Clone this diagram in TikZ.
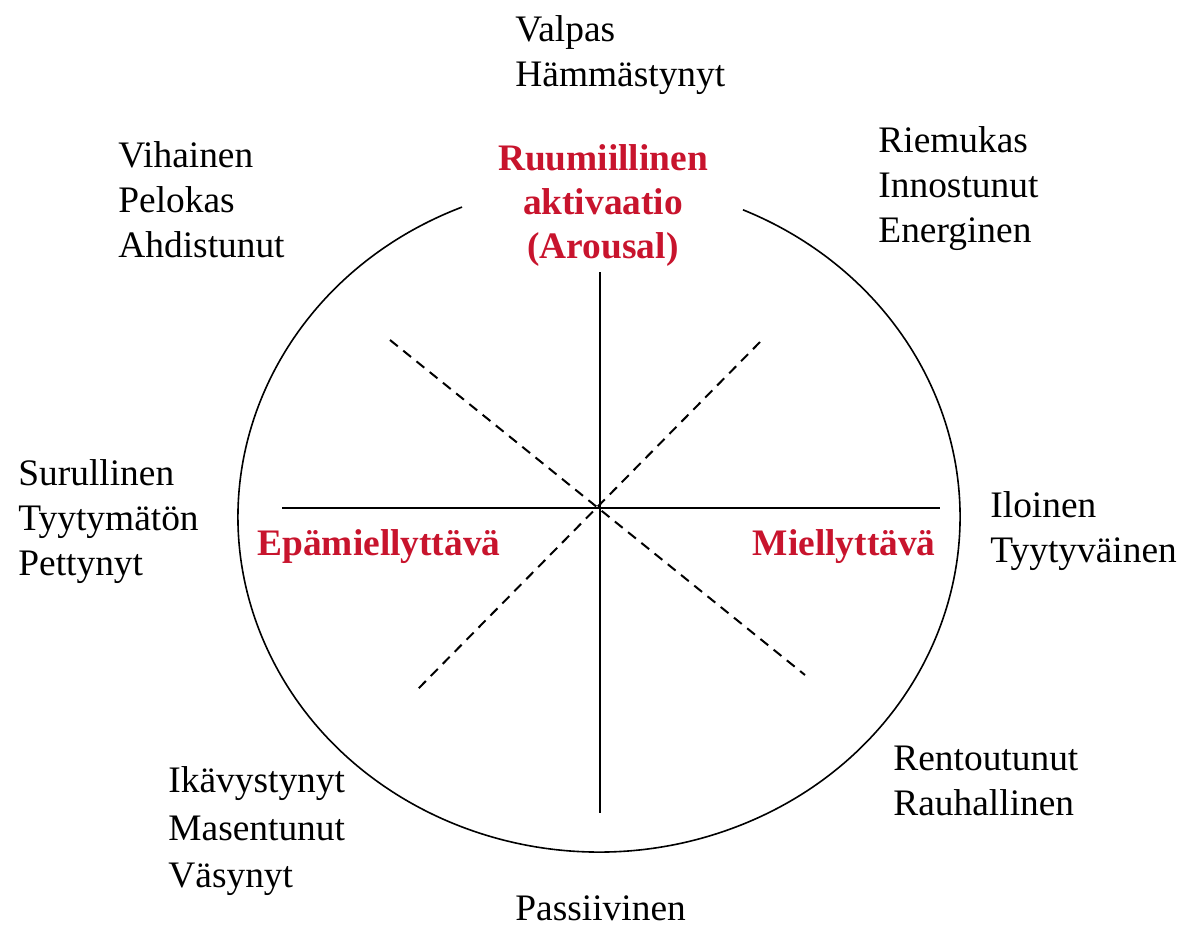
\documentclass[tikz,border=0pt]{standalone}
\usepackage{fontspec}
\setmainfont{Liberation Serif}
\definecolor{axred}{RGB}{200,20,45}
\begin{document}
\begin{tikzpicture}[x=0.5pt,y=-0.5pt,
  lbl/.style={anchor=base west, inner sep=0pt, font=\fontsize{18.7}{22.5}\selectfont},
  ttl/.style={inner sep=0pt, text=axred, font=\fontsize{18.7}{22.5}\selectfont\bfseries},
  axisline/.style={line width=1pt},
  diagline/.style={line width=1pt, dash pattern=on 5pt off 3.5pt},
  rim/.style={line width=0.8pt}]
\useasboundingbox (0,0) rectangle (1186,928);

% ellipse with gap at top
\coordinate (E) at (599,517);
\draw[rim] (E) ++(112.3:180.5pt and 167.5pt)
  arc[start angle=112.3, end angle=426.5, x radius=180.5pt, y radius=167.5pt];

% axes
\coordinate (hl) at (282,508);
\coordinate (hr) at (940,508);
\coordinate (vt) at (600,272);
\coordinate (vb) at (600,813);
\draw[axisline] (hl) -- (hr);
\draw[axisline] (vt) -- (vb);

% diagonals
\coordinate (d1a) at (390,340);
\coordinate (d1b) at (805,675);
\coordinate (d2a) at (760,342);
\coordinate (d2b) at (415,692);
\draw[diagline] (d1a) -- (d1b);
\draw[diagline] (d2a) -- (d2b);

% titles
\node[ttl, anchor=base] (t1) at (603,170) {Ruumiillinen};
\node[ttl, anchor=base] (t2) at (603,214) {aktivaatio};
\node[ttl, anchor=base] (t3) at (603,258) {(Arousal)};
\node[ttl, anchor=base west] (tl) at (257,555) {Epämiellyttävä};
\node[ttl, anchor=base east] (tr) at (936,555) {Miellyttävä};

% labels
\node[lbl] (n1) at (515,41) {Valpas};
\node[lbl] (n2) at (515,86) {Hämmästynyt};

\node[lbl] (a1) at (118,167) {Vihainen};
\node[lbl] (a2) at (118,212) {Pelokas};
\node[lbl] (a3) at (118,257) {Ahdistunut};

\node[lbl] (b1) at (878,152) {Riemukas};
\node[lbl] (b2) at (878,197) {Innostunut};
\node[lbl] (b3) at (878,242) {Energinen};

\node[lbl] (c1) at (18,485) {Surullinen};
\node[lbl] (c2) at (18,530) {Tyytymätön};
\node[lbl] (c3) at (18,575) {Pettynyt};

\node[lbl] (e1) at (990,517) {Iloinen};
\node[lbl] (e2) at (990,562) {Tyytyväinen};

\node[lbl] (f1) at (168,792) {Ikävystynyt};
\node[lbl] (f2) at (168,840) {Masentunut};
\node[lbl] (f3) at (168,887) {Väsynyt};

\node[lbl] (g1) at (893,770) {Rentoutunut};
\node[lbl] (g2) at (893,815) {Rauhallinen};

\node[lbl] (p1) at (515,920) {Passiivinen};
\end{tikzpicture}
\end{document}
